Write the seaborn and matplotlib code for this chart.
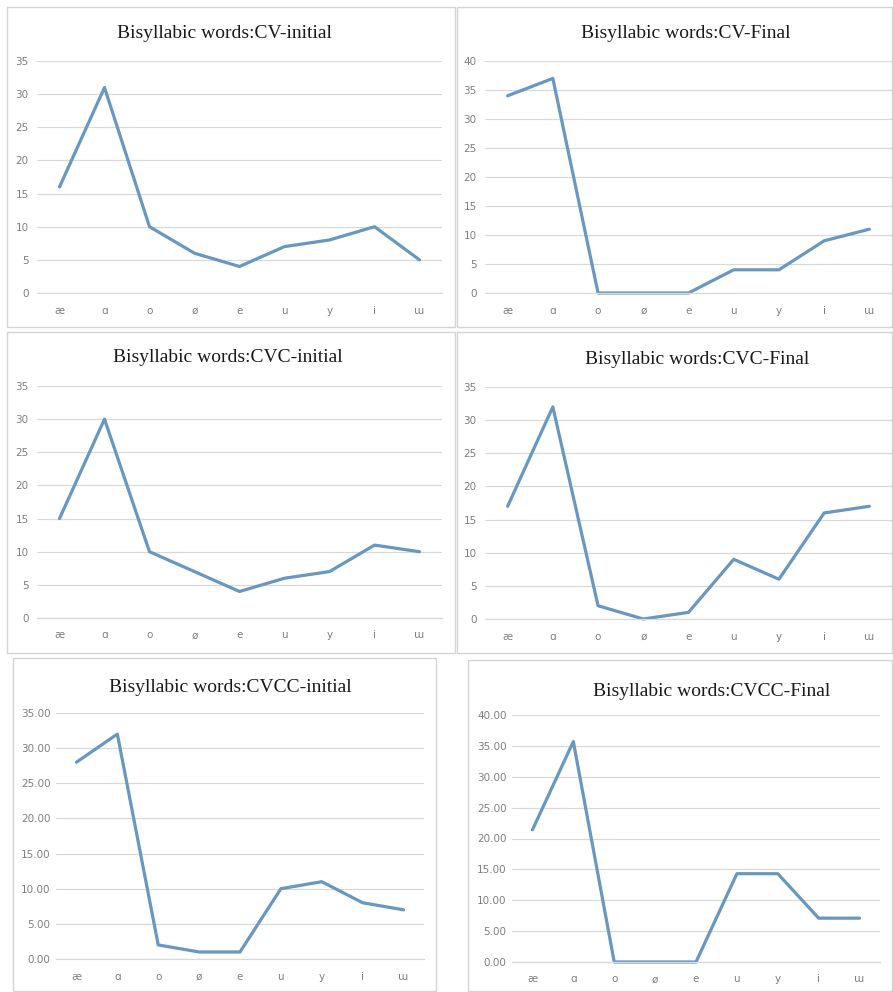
import matplotlib
matplotlib.use("Agg")
import matplotlib.pyplot as plt
import seaborn as sns
import pandas as pd
from matplotlib.patches import Rectangle
from matplotlib.ticker import FixedLocator, FormatStrFormatter

sns.set_theme(style="white")
plt.rcParams['font.family'] = ['DejaVu Sans']

vowels = ["æ", "ɑ", "o", "ø", "e", "u", "y", "i", "ɯ"]

titles = ["Bisyllabic words:CV-initial", "Bisyllabic words:CV-Final",
          "Bisyllabic words:CVC-initial", "Bisyllabic words:CVC-Final",
          "Bisyllabic words:CVCC-initial", "Bisyllabic words:CVCC-Final"]

cv_initial = [16, 31, 10, 6, 4, 7, 8, 10, 5]
cv_final = [34, 37, 0, 0, 0, 4, 4, 9, 11]
cvc_initial = [15, 30, 10, 7, 4, 6, 7, 11, 10]
cvc_final = [17, 32, 2, 0, 1, 9, 6, 16, 17]
cvcc_initial = [28, 32, 2, 1, 1, 10, 11, 8, 7]
cvcc_final = [21.4, 35.7, 0, 0, 0, 14.3, 14.3, 7.1, 7.1]

series = [cv_initial, cv_final, cvc_initial, cvc_final, cvcc_initial, cvcc_final]
ymaxes = [35, 40, 35, 35, 35, 40]
decimals = [False, False, False, False, True, True]

W, H = 893, 992
fig = plt.figure(figsize=(W / 100, H / 100), dpi=100)

# panel borders (x0, y0, x1, y1) in pixels from top-left
borders = [(7, 7, 455, 327), (457, 7, 892, 327),
           (7, 332, 455, 653), (457, 332, 892, 653),
           (13, 658, 436, 991), (468, 660, 892, 991)]
# plot areas: (left, right, top_y(ymax), bottom_y(0))
areas = [(37, 442, 61, 293), (485, 892, 61, 293),
         (37, 442, 386, 618), (485, 892, 387, 619),
         (56, 424, 713, 959), (512, 880, 715, 962)]
title_pos = [(224, 34), (686, 33), (228, 358), (697, 360), (230, 688), (712, 692)]

line_color = "#6897BF"
grid_color = "#D9D9D9"

for (x0, y0, x1, y1) in borders:
    fig.patches.append(Rectangle((x0 / W, 1 - y1 / H), (x1 - x0) / W, (y1 - y0) / H,
                                 transform=fig.transFigure, fill=False,
                                 edgecolor="#D4D4D4", linewidth=1.0))

for i in range(6):
    l, r, t, b = areas[i]
    ax = fig.add_axes([l / W, 1 - b / H, (r - l) / W, (b - t) / H])
    df = pd.DataFrame({"vowel": vowels, "value": series[i]})
    sns.lineplot(data=df, x="vowel", y="value", ax=ax, sort=False,
                 color=line_color, linewidth=2.3, clip_on=False)
    ax.set_xlim(-0.5, 8.5)
    ax.set_ylim(0, ymaxes[i])
    ax.yaxis.set_major_locator(FixedLocator(list(range(0, ymaxes[i] + 1, 5))))
    if decimals[i]:
        ax.yaxis.set_major_formatter(FormatStrFormatter("%.2f"))
    ax.grid(axis="y", color=grid_color, linewidth=0.9)
    ax.set_axisbelow(True)
    for s in ["top", "right", "left"]:
        ax.spines[s].set_visible(False)
    ax.spines["bottom"].set_color(grid_color)
    ax.spines["bottom"].set_linewidth(0.9)
    ax.set_xlabel("")
    ax.set_ylabel("")
    ax.tick_params(axis="both", length=0, labelsize=7.5, labelcolor="#7F7F7F")
    ax.tick_params(axis="x", pad=9)
    ax.tick_params(axis="y", pad=6 if not decimals[i] else 4)
    ax.set_facecolor("none")
    tx, ty = title_pos[i]
    fig.text(tx / W, 1 - ty / H, titles[i], ha="center", va="center",
             family="Liberation Serif", fontsize=14, color="#1A1A1A")

fig.savefig("out.png", dpi=100, facecolor="white")
